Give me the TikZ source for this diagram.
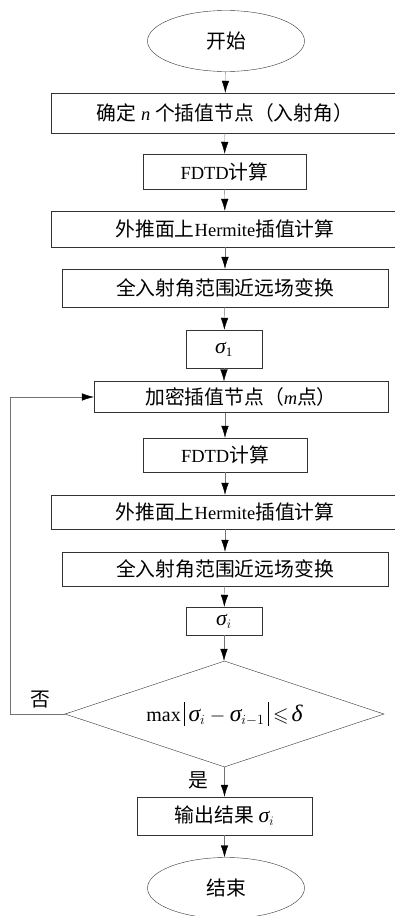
\RequirePackage{fix-cm}
\documentclass[tikz,border=0pt]{standalone}
\usepackage{amssymb}
\usepackage{fontspec}
\setmainfont{Liberation Serif}
\newfontfamily\cjk{Noto Sans CJK SC}[Scale=1.07]
\newfontfamily\greek{Liberation Serif}[Scale=1.18]
\usetikzlibrary{arrows.meta,shapes.geometric}
\usetikzlibrary{positioning}
\newcommand{\sgm}{\mbox{\greek\itshape σ}}
\newcommand{\vbar}{\rule[-4.5pt]{0.7pt}{24pt}}
\tikzset{
    process/.style={
           rectangle,
           draw=black!80, thin,
           inner sep=0pt,
           font=\fontsize{18.5}{22}\selectfont,
           },
    terminal/.style={
           ellipse,
           draw=black!80, thin,
           inner sep=0pt,
           minimum width=157pt, minimum height=61pt,
           font=\fontsize{18.5}{22}\selectfont,
           },
    decision/.style={
           diamond, aspect=3,
           draw=black!80, thin,
           inner sep=0pt,
           minimum width=319pt, minimum height=106pt,
           font=\fontsize{20}{24}\selectfont,
           },
    flow/.style={->, >={Latex[length=12pt,width=7.5pt,black]}, draw=black!55, thin},
}

\begin{document}
\begin{tikzpicture}[x=1pt,y=-1pt]
\useasboundingbox (0,0) rectangle (395,916);
% first pass
\node[terminal] (start) at (226,41) {\cjk 开始};
\node[process, minimum width=348pt, minimum height=40pt] (nodes) at (225,113) {{\cjk 确定}~\textit{n}~{\cjk 个插值节点（入射角）}};
\node[process, minimum width=163pt, minimum height=35pt] (fdtd1) at (224.5,171.5) {FDTD{\cjk 计算}};
\node[process, minimum width=348pt, minimum height=36pt] (herm1) at (225,229) {{\cjk 外推面上}Hermite{\cjk 插值计算}};
\node[process, minimum width=326pt, minimum height=38pt] (far1) at (225,288) {\cjk 全入射角范围近远场变换};
\node[process, minimum width=76pt, minimum height=38pt] (sig1) at (224,349) {$\sgm_{\mathrm{1}}$};
% refinement loop
\node[process, minimum width=294pt, minimum height=31pt] (dense) at (241,397) {{\cjk 加密插值节点（}\textit{m}{\cjk 点）}};
\node[process, minimum width=164pt, minimum height=34pt] (fdtd2) at (225,455) {FDTD{\cjk 计算}};
\node[process, minimum width=348pt, minimum height=34pt] (herm2) at (225,512) {{\cjk 外推面上}Hermite{\cjk 插值计算}};
\node[process, minimum width=326pt, minimum height=34pt] (far2) at (225,569) {\cjk 全入射角范围近远场变换};
\node[process, minimum width=76pt, minimum height=28pt] (sigi) at (224,621) {$\sgm_i$};
\node[decision] (check) at (224.5,714) {max\hspace{3pt}\vbar\hspace{4pt}$\sgm_i - \sgm_{i-1}$\hspace{4pt}\vbar\hspace{4pt}$\leqslant$\hspace{3pt}{\greek\itshape δ}};
\node[process, minimum width=175pt, minimum height=38pt] (out) at (224.5,816) {{\cjk 输出结果}~$\sgm_i$};
\node[terminal] (stop) at (226,888) {\cjk 结束};
\node[font=\fontsize{18.5}{22}\selectfont] (no) at (40,700) {\cjk 否};
\node[font=\fontsize{18.5}{22}\selectfont] (yes) at (198,780) {\cjk 是};
\coordinate (corner) at (10,714);

\draw[flow] (start) -- (nodes);
\draw[flow] (nodes) -- (fdtd1);
\draw[flow] (fdtd1) -- (herm1);
\draw[flow] (herm1) -- (far1);
\draw[flow] (far1) -- (sig1);
\draw[flow] (sig1.south) -- (sig1.south |- dense.north);
\draw[flow] (dense.south -| fdtd2.north) -- (fdtd2.north);
\draw[flow] (fdtd2) -- (herm2);
\draw[flow] (herm2) -- (far2);
\draw[flow] (far2) -- (sigi);
\draw[flow] (sigi.south) -- (sigi.south |- check.north);
\draw[flow] (check.south) -- (check.south |- out.north);
\draw[flow] (out.south) -- (out.south |- stop.north);
\draw[flow] (check.west) -- (corner) |- (dense.west);
\end{tikzpicture}
\end{document}
